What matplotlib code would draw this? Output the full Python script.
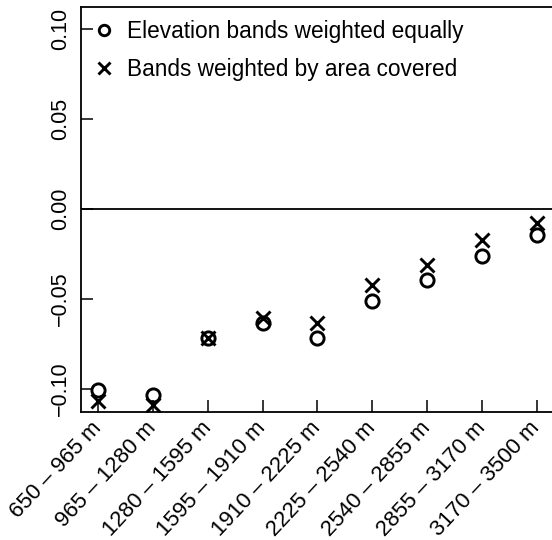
import matplotlib
matplotlib.use("Agg")
import matplotlib.pyplot as plt
from matplotlib.lines import Line2D

plt.rcParams['font.family'] = ['Liberation Sans', 'DejaVu Sans']

# elevation bands and the two weighting schemes
bands = ["650 – 965 m", "965 – 1280 m", "1280 – 1595 m", "1595 – 1910 m",
         "1910 – 2225 m", "2225 – 2540 m", "2540 – 2855 m", "2855 – 3170 m",
         "3170 – 3500 m"]
equal_w = [-0.1005, -0.1033, -0.0718, -0.0635, -0.0718, -0.0510, -0.0394, -0.0260, -0.0144]
area_w = [-0.1067, -0.1090, -0.0718, -0.0607, -0.0635, -0.0422, -0.0310, -0.0172, -0.0078]
yticks = [-0.10, -0.05, 0.00, 0.05, 0.10]

fig = plt.figure(figsize=(5.52, 5.40), dpi=100)
ax = fig.add_axes([0.146, 0.237, 0.858, 0.750])

xs = list(range(1, len(bands) + 1))
ax.axhline(0, color="black", lw=1.3, zorder=1)
ax.plot(xs, equal_w, linestyle="none", marker="o", markersize=9.5,
        markerfacecolor="none", markeredgecolor="black", markeredgewidth=2.1)
ax.plot(xs, area_w, linestyle="none", marker="x", markersize=10,
        color="black", markeredgewidth=2.1)

ax.set_xlim(0.68, 9.32)
ax.set_ylim(-0.1128, 0.112)
ax.set_xticks(xs)
ax.set_xticklabels(bands, rotation=47, ha="right", va="center",
                   rotation_mode="anchor", fontsize=16)
ax.set_yticks(yticks)
ax.set_yticklabels([f"{v:.2f}".replace("-", "\u2212") for v in yticks],
                   rotation=90, va="center", fontsize=15.5)
ax.tick_params(direction="in", length=8.5, width=1.1, pad=7)
ax.tick_params(axis="x", pad=9)
for s in ax.spines.values():
    s.set_linewidth(1.3)

handles = [
    Line2D([], [], linestyle="none", marker="o", markersize=7.5,
           markerfacecolor="none", markeredgecolor="black", markeredgewidth=2.1),
    Line2D([], [], linestyle="none", marker="x", markersize=8,
           color="black", markeredgewidth=2.1),
]
ax.legend(handles, ["Elevation bands weighted equally",
                    "Bands weighted by area covered"],
          loc="upper left", bbox_to_anchor=(0.0, 1.0), frameon=False,
          fontsize=16.3, handlelength=0.9, handletextpad=0.6,
          labelspacing=0.68, borderaxespad=0.17)

fig.savefig("out.png", dpi=100)
